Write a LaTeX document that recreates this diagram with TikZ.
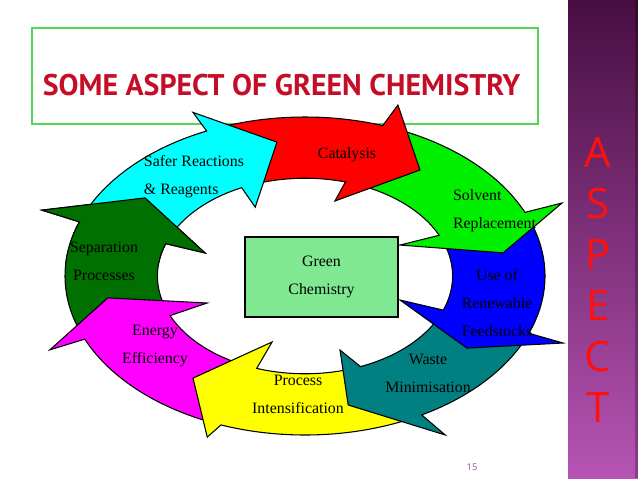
\documentclass[tikz,border=0pt]{standalone}
\usepackage{fontspec}
\setmainfont{Liberation Serif}
\newfontfamily\titlefont{PT Sans}
\newfontfamily\bandfont{Open Sans}
\usepackage{tikz}
\usetikzlibrary{positioning}
\definecolor{titlered}{RGB}{196,14,40}
\definecolor{boxgreen}{RGB}{84,214,84}
\definecolor{chemgreen}{RGB}{128,232,144}
\definecolor{safercyan}{RGB}{0,255,255}
\definecolor{catred}{RGB}{255,0,0}
\definecolor{solvgreen}{RGB}{0,240,0}
\definecolor{feedblue}{RGB}{0,0,255}
\definecolor{wasteteal}{RGB}{0,128,128}
\definecolor{procyellow}{RGB}{255,255,0}
\definecolor{energymag}{RGB}{255,0,255}
\definecolor{sepgreen}{RGB}{0,112,0}
\definecolor{bandtop}{RGB}{72,14,66}
\definecolor{bandbot}{RGB}{182,84,180}
\definecolor{aspectred}{RGB}{255,16,16}
\definecolor{pagepurple}{RGB}{150,70,160}
\newcommand{\ringin}{0.615}
% one curved block arrow of the ring: colour, tail (outer, inner), outer notch,
% outer barb, tip, inner barb, inner notch
\newcommand{\ringarrow}[8]{%
	\draw[ringpiece, fill=#1] (#2:1) arc[start angle=#2, end angle=#4, radius=1]
	-- (#5) -- (#6) -- (#7) -- (#8:\ringin)
	arc[start angle=#8, end angle=#3, radius=\ringin] -- cycle;}
\tikzset{
	ring/.style={
		shift={(305,-276)},
		x=180pt,
		y=119.25pt
	},
	ringpiece/.style={
		draw=black,
		line width=0.8pt,
		line join=miter
	},
	lbl/.style={
		font=\fontsize{11.9}{21}\selectfont,
		align=center,
		inner sep=0pt
	},
	chembox/.style={
		draw=black,
		line width=0.8pt,
		fill=chemgreen,
		minimum width=114.75pt,
		minimum height=60pt,
		align=center,
		font=\fontsize{11.9}{21}\selectfont
	},
	titletext/.style={
		font=\titlefont\bfseries\fontsize{22.4}{24}\selectfont,
		text=titlered,
		inner sep=0pt
	},
	bandtext/.style={
		font=\bandfont\fontsize{31.5}{38.25}\selectfont,
		text=aspectred,
		align=center,
		inner sep=0pt
	}
}
\begin{document}
\begin{tikzpicture}[x=0.75pt,y=0.75pt]
	\useasboundingbox (0,0) rectangle (638,-479);
	
	% --- SIDE BAND ---
	\shade[top color=bandtop, bottom color=bandbot] (568,0) rectangle (638,-478);
	\fill[black, opacity=0.25] (635,0) rectangle (638,-478);
	\node[bandtext] (aspect) at (598,-279.5) {A\\S\\P\\E\\C\\T};
	
	% --- TITLE ---
	\draw[boxgreen, line width=1.5pt] (32,-28) rectangle (538,-124);
	\node[titletext, anchor=base] (title) at (281.5,-95) {SOME ASPECT OF GREEN CHEMISTRY};
	
	% --- RING OF ARROWS (drawn backwards so each head lies on the next tail) ---
	\begin{scope}[ring]
		\ringarrow{sepgreen}{-159.4}{-160.4}{-199.9}{-200.7:1.172}{-216.4:0.828}{-199.2:0.441}{-199.3}
		\ringarrow{energymag}{-114.9}{-111.3}{-156.6}{-156.4:1.16}{-170.5:0.833}{-157.4:0.442}{-156.1}
		\ringarrow{procyellow}{-62.7}{-73.5}{-110.5}{-111.9:1.092}{-126.0:0.794}{-108.3:0.437}{-109.1}
		\ringarrow{wasteteal}{-24.4}{-23.9}{-60.9}{-59.7:1.158}{-77.5:0.831}{-72.6:0.488}{-67.9}
		\ringarrow{feedblue}{20.2}{23.2}{-21.1}{-21.4:1.155}{-33.9:0.813}{-20.9:0.424}{-20.4}
		\ringarrow{solvgreen}{67.2}{72.2}{23.6}{23.2:1.165}{10.0:0.838}{26.2:0.441}{24.6}
		\ringarrow{catred}{111.4}{112.6}{71.1}{70.2:1.143}{54.3:0.821}{75.2:0.488}{74.1}
		\ringarrow{safercyan}{156.3}{157.8}{114.2}{114.4:1.13}{97.9:0.85}{115.6:0.48}{115.4}
	\end{scope}
	% head of the last arrow again, over the first tail
	\begin{scope}
		\clip (25,-180) rectangle (222,-262);
		\begin{scope}[ring]
			\ringarrow{sepgreen}{-159.4}{-160.4}{-199.9}{-200.7:1.172}{-216.4:0.828}{-199.2:0.441}{-199.3}
		\end{scope}
	\end{scope}
	
	% --- LABELS ---
	\node[lbl, align=left] (safer) at (194,-177) {Safer Reactions\\\& Reagents};
	\node[lbl] (catal) at (347,-155) {Catalysis};
	\node[lbl, align=left] (solv) at (494.5,-211) {Solvent\\Replacement};
	\node[lbl] (feed) at (497,-302.5) {Use of\\Renewable\\Feedstocks};
	\node[lbl] (waste) at (428,-373) {Waste\\Minimisation};
	\node[lbl] (proc) at (298,-394) {Process\\Intensification};
	\node[lbl] (energy) at (155,-346.5) {Energy\\Efficiency};
	\node[lbl] (sep) at (104,-261) {Separation\\Processes};
	
	% --- CENTRE BOX ---
	\node[chembox] (chem) at (321.5,-277) {Green\\Chemistry};
	
	\node[font=\bandfont\fontsize{7}{8}\selectfont, text=pagepurple] (page) at (472,-467) {15};
	
\end{tikzpicture}
\end{document}
